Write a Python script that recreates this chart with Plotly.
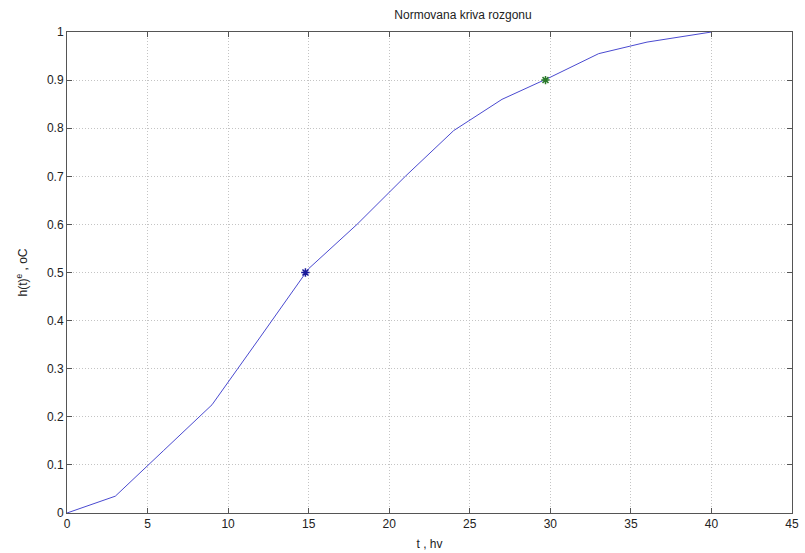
import plotly.graph_objects as go

# Normalised step-response curve h(t)
t_hours = [0, 3, 6, 9, 12, 15, 18, 21, 24, 27, 30, 33, 36, 39, 40]
h_norm = [0.0, 0.035, 0.13, 0.225, 0.366, 0.508, 0.60, 0.70, 0.795, 0.86, 0.906, 0.955, 0.979, 0.994, 1.0]

# Characteristic points at h = 0.5 and h = 0.9
t_half = [14.8]
h_half = [0.5]
t_ninety = [29.7]
h_ninety = [0.9]

x_ticks = [0, 5, 10, 15, 20, 25, 30, 35, 40, 45]
y_ticks = [0, 0.1, 0.2, 0.3, 0.4, 0.5, 0.6, 0.7, 0.8, 0.9, 1]
y_tick_text = ["0", "0.1", "0.2", "0.3", "0.4", "0.5", "0.6", "0.7", "0.8", "0.9", "1"]

FONT = "Liberation Sans, Arial, sans-serif"

fig = go.Figure()
fig.add_trace(go.Scatter(x=t_hours, y=h_norm, mode="lines",
                         line=dict(color="#4a4ad0", width=1), showlegend=False))
fig.add_trace(go.Scatter(x=t_half, y=h_half, mode="markers",
                         marker=dict(symbol="asterisk-open", size=7, color="#1a1a9a",
                                     line=dict(color="#1a1a9a", width=1.5)),
                         showlegend=False))
fig.add_trace(go.Scatter(x=t_ninety, y=h_ninety, mode="markers",
                         marker=dict(symbol="asterisk-open", size=7, color="#2a7a2a",
                                     line=dict(color="#2a7a2a", width=1.5)),
                         showlegend=False))

axis_common = dict(
    showline=True, linecolor="#555555", linewidth=1, mirror="allticks",
    ticks="inside", ticklen=5, tickcolor="#555555",
    showgrid=True, gridcolor="#c4c4c4", griddash="1px,2px", gridwidth=1,
    zeroline=False, automargin=False,
    tickfont=dict(family=FONT, size=12, color="#222222"),
)

fig.update_layout(
    width=805, height=553,
    margin=dict(l=67, r=13, t=32, b=40),
    paper_bgcolor="white", plot_bgcolor="white",
    title=dict(text="Normovana kriva rozgonu", x=(67 + 396) / 805, xanchor="center",
               y=1 - 15 / 553, yanchor="middle", yref="container",
               font=dict(family=FONT, size=12, color="#222222")),
    xaxis=dict(range=[0, 45], tickvals=x_ticks,
               title=dict(text="t , hv", standoff=9,
                          font=dict(family=FONT, size=12, color="#222222")),
               **axis_common),
    yaxis=dict(range=[0, 1], tickvals=y_ticks, ticktext=y_tick_text,
               title=dict(text="h(t)<sup>e</sup> , oC", standoff=16,
                          font=dict(family=FONT, size=12, color="#222222")),
               **axis_common),
)

fig.write_html("out.html")
